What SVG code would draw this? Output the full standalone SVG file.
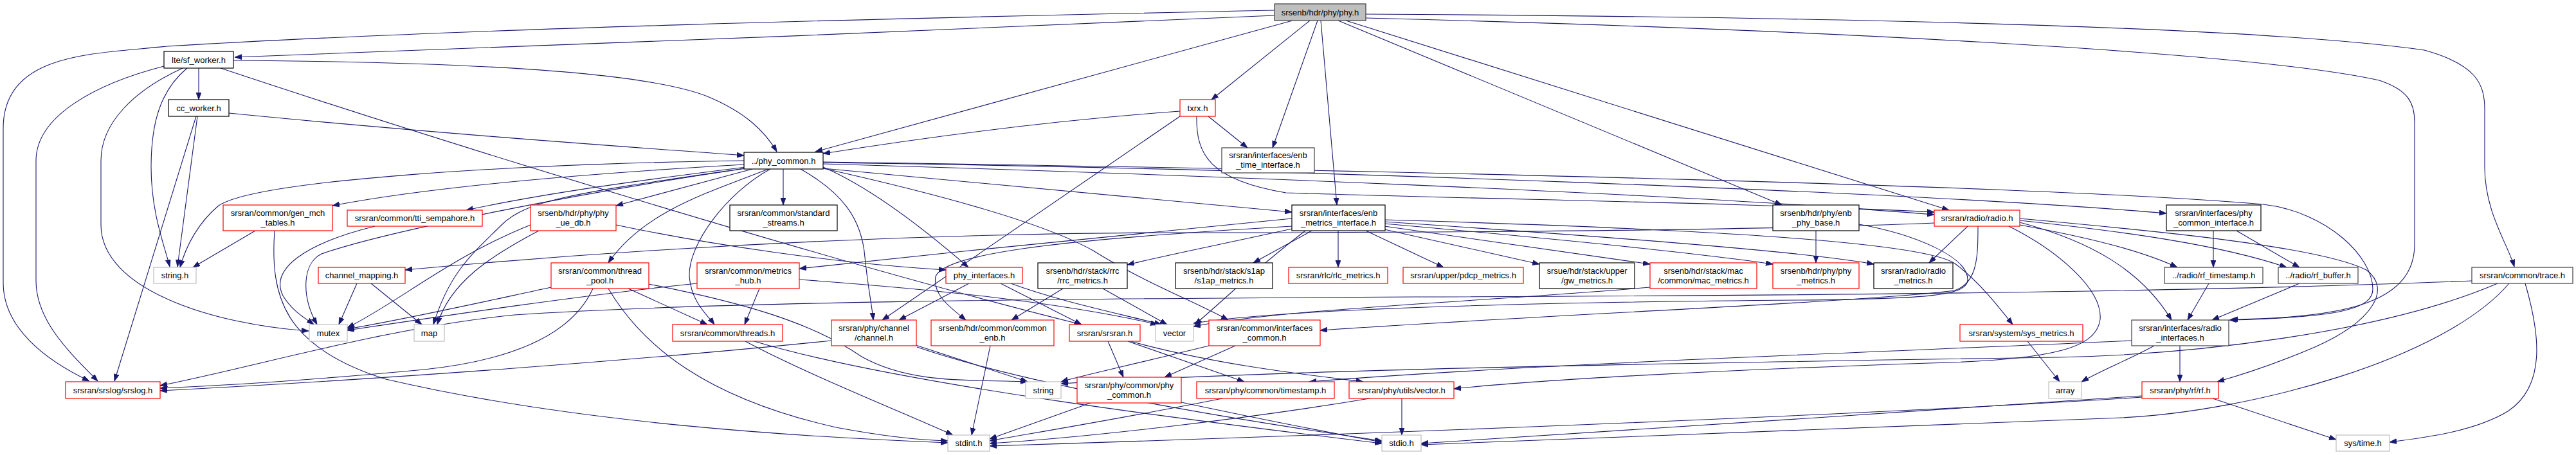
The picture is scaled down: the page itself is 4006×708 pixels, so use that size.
<svg xmlns="http://www.w3.org/2000/svg" width="4006" height="708" viewBox="0 0 4006 708">
<style>
rect{fill:#fff;stroke-width:1.2}
.k rect{stroke:#000}
.r rect{stroke:#ff0000}
.g rect{stroke:#bfbfbf}
.d rect{stroke:#404040}
.m rect{fill:#bfbfbf;stroke:#404040}
text{font-family:"Liberation Sans",Arial,sans-serif;font-size:13px;fill:#000;text-anchor:middle}
#edges path{fill:none;stroke:#191970;stroke-width:1.1;marker-end:url(#a)}
</style>
<defs>
<marker id="a" markerUnits="userSpaceOnUse" markerWidth="12" markerHeight="9" refX="11" refY="4" orient="auto">
<path d="M0,0 L11,4 L0,8 Z" fill="#191970" stroke="#191970" stroke-width="0.8"/>
</marker>
</defs>
<rect x="0" y="0" width="4006" height="708" style="fill:#fff;stroke:none"/>
<g id="edges">
<path d="M1982,24 C1500,45 800,75 365,89"/>
<path d="M1982,16 C1400,28 700,45 260,72 C150,84 5,80 5,200 L5,440 C5,510 70,560 139,593"/>
<path d="M2010,32 L1268,236"/>
<path d="M2037,32 L1884,155"/>
<path d="M2049,32 L1979,230"/>
<path d="M2054,32 L2079,319"/>
<path d="M2081,32 L2771,319"/>
<path d="M2093,32 L3031,327"/>
<path d="M2124,22 C2800,26 3500,40 3770,78 C3850,100 3864,130 3864,170 L3864,260 C3864,330 3900,380 3910,415"/>
<path d="M2124,28 C2800,45 3500,80 3700,125 C3745,140 3755,160 3755,190 L3755,380 C3755,470 3650,495 3469,497"/>
<path d="M309,106 L309,155"/>
<path d="M363,94 C700,96 1000,110 1100,150 C1160,175 1190,205 1208,236"/>
<path d="M255,103 C150,130 56,180 56,250 L56,437 C56,500 110,550 152,593"/>
<path d="M284,106 C210,140 157,190 157,250 L157,350 C157,450 330,505 480,515"/>
<path d="M291,106 C250,140 235,190 235,260 C235,330 255,380 264,415"/>
<path d="M343,106 C700,225 1300,410 1682,505"/>
<path d="M356,176 C700,210 1000,230 1157,242"/>
<path d="M305,181 L178,593"/>
<path d="M307,181 L276,415"/>
<path d="M1835,173 C1600,190 1400,220 1280,239"/>
<path d="M1879,181 L1940,230"/>
<path d="M1835,181 L1372,498"/>
<path d="M1861,181 C1860,240 1880,280 2000,300 C2300,310 2700,315 3008,330"/>
<path d="M1157,256 C1000,265 700,285 517,320"/>
<path d="M1160,260 C1000,280 850,300 725,327"/>
<path d="M1170,263 L958,320"/>
<path d="M1218,263 L1218,319"/>
<path d="M1195,263 C1100,300 1000,330 946,409"/>
<path d="M1198,263 C1130,300 1070,380 1072,430 C1075,470 1100,490 1111,505"/>
<path d="M1280,260 C1350,290 1430,350 1506,416"/>
<path d="M1245,263 C1310,300 1340,340 1345,400 C1350,450 1356,475 1358,498"/>
<path d="M1280,262 C1450,300 1620,345 1700,390 C1780,440 1860,470 1910,498"/>
<path d="M1280,262 L2009,330"/>
<path d="M1280,255 C1800,270 2600,300 3008,334"/>
<path d="M1280,253 C2000,262 3000,300 3369,332"/>
<path d="M1280,252 C2200,265 3200,290 3520,318 C3620,330 3690,400 3690,450 C3690,480 3640,494 3467,498"/>
<path d="M1157,250 C800,255 400,280 340,320 C310,345 290,380 280,416"/>
<path d="M1158,262 C900,300 820,310 780,350 C740,390 700,420 674,505"/>
<path d="M1160,262 C900,300 600,360 500,395 C470,410 468,460 493,505"/>
<path d="M397,359 L300,416"/>
<path d="M427,359 C420,460 440,540 600,590 C900,660 1250,680 1474,689"/>
<path d="M583,352 C470,380 420,420 440,460 C455,485 475,495 488,505"/>
<path d="M555,441 L527,505"/>
<path d="M577,441 L656,505"/>
<path d="M958,350 C1100,380 1300,410 1471,420"/>
<path d="M838,359 C760,400 700,440 680,505"/>
<path d="M825,350 C700,400 620,470 540,510"/>
<path d="M977,449 L1100,505"/>
<path d="M857,447 C750,470 640,495 540,512"/>
<path d="M922,449 C890,520 800,560 660,575 C500,590 350,600 249,604"/>
<path d="M946,449 C1000,540 1100,620 1300,665 C1380,680 1430,685 1474,686"/>
<path d="M1009,442 C1150,470 1260,500 1340,555 C1420,600 1520,590 1598,594"/>
<path d="M1181,449 L1158,505"/>
<path d="M1084,441 C900,460 700,490 540,514"/>
<path d="M1243,435 C1450,450 1650,470 1800,505"/>
<path d="M1159,531 C1250,580 1400,640 1482,677"/>
<path d="M1173,531 C1400,600 1900,660 2149,690"/>
<path d="M1507,441 L1398,498"/>
<path d="M1556,441 L1682,505"/>
<path d="M1572,441 C1650,470 1750,490 1806,505"/>
<path d="M1653,449 L1573,498"/>
<path d="M1715,449 L1815,505"/>
<path d="M2009,352 C1700,370 1470,390 1455,430 C1450,460 1480,480 1502,498"/>
<path d="M2009,356 C1900,380 1800,400 1753,412"/>
<path d="M2040,359 L1949,409"/>
<path d="M2081,359 L2081,416"/>
<path d="M2124,359 L2245,416"/>
<path d="M2153,357 L2394,411"/>
<path d="M2153,352 L2566,411"/>
<path d="M2153,348 C2400,370 2650,395 2757,411"/>
<path d="M2153,345 C2450,365 2800,390 2914,411"/>
<path d="M2153,342 C2500,352 2980,370 3040,410 C3080,440 3110,480 3130,505"/>
<path d="M2009,340 C1800,360 1500,390 1243,418"/>
<path d="M2030,359 C1950,420 1900,470 1858,505"/>
<path d="M2824,359 L2824,409"/>
<path d="M2891,349 C2980,365 3060,400 3060,435 C3060,460 3000,465 2800,467 C2400,470 2000,480 1856,503"/>
<path d="M2566,447 C2300,470 2000,480 1856,508"/>
<path d="M1540,538 L1511,677"/>
<path d="M1424,537 L1598,594"/>
<path d="M1293,530 C1000,560 600,590 249,608"/>
<path d="M1426,540 C1600,600 1900,650 2149,686"/>
<path d="M1723,531 L1747,587"/>
<path d="M1754,531 L1935,594"/>
<path d="M1758,531 C1900,570 2050,585 2120,594"/>
<path d="M1880,538 C1750,570 1680,585 1650,594"/>
<path d="M1921,538 L1811,587"/>
<path d="M1696,627 L1539,683"/>
<path d="M1837,626 C1950,650 2050,670 2149,688"/>
<path d="M1901,620 C1750,650 1600,675 1539,686"/>
<path d="M2180,620 L2180,677"/>
<path d="M2130,620 C1950,650 1700,680 1539,690"/>
<path d="M3153,531 L3203,594"/>
<path d="M3060,352 L3000,409"/>
<path d="M3008,347 C2700,360 2200,362 1800,362 C1300,365 900,395 630,420"/>
<path d="M3076,352 C3076,400 3075,440 3040,452 C2900,470 2400,490 2053,514"/>
<path d="M3141,350 C3250,370 3330,390 3386,416"/>
<path d="M3141,343 C3300,360 3450,380 3556,416"/>
<path d="M3141,346 C3250,375 3330,420 3377,498"/>
<path d="M3141,340 C3300,355 3600,380 3680,420 C3720,450 3690,500 3600,540 C3530,570 3480,585 3448,594"/>
<path d="M3124,352 C3200,390 3270,450 3266,497 C3260,540 3200,560 3000,565 C2700,575 2400,590 2261,605"/>
<path d="M3390,538 L3390,594"/>
<path d="M3350,538 C3310,560 3270,575 3237,594"/>
<path d="M3315,530 C3000,545 2400,565 2036,594"/>
<path d="M3435,441 L3402,498"/>
<path d="M3576,441 L3440,498"/>
<path d="M3442,359 L3442,416"/>
<path d="M3478,359 L3576,416"/>
<path d="M3927,441 C3950,520 3960,600 3900,640 C3850,670 3780,680 3716,688"/>
<path d="M3844,437 C3400,455 2800,460 2200,462 C1600,465 1100,470 800,490 C600,510 400,570 249,600"/>
<path d="M3884,441 C3700,520 3400,552 3200,556 C2600,565 2000,575 1650,597"/>
<path d="M3902,441 C3800,560 3500,640 3300,650 C2700,670 2400,685 2210,692"/>
<path d="M3441,620 L3633,684"/>
<path d="M3331,618 C3000,640 2300,670 1539,694"/>
<path d="M3331,616 C3000,640 2500,670 2210,690"/>
</g>
<g id="n_phy" class="m"><rect x="1982" y="6" width="142" height="26"/><text x="2053" y="23.5">srsenb/hdr/phy/phy.h</text></g>
<g id="n_sfw" class="k"><rect x="255" y="80" width="108" height="26"/><text x="309" y="97.5">lte/sf_worker.h</text></g>
<g id="n_ccw" class="k"><rect x="262" y="155" width="94" height="26"/><text x="309" y="172.5">cc_worker.h</text></g>
<g id="n_txrx" class="r"><rect x="1835" y="155" width="55" height="26"/><text x="1862.5" y="172.5">txrx.h</text></g>
<g id="n_etime" class="d"><rect x="1900" y="230" width="144" height="39"/><text x="1972" y="246">srsran/interfaces/enb</text><text x="1972" y="261">_time_interface.h</text></g>
<g id="n_pc" class="k"><rect x="1157" y="237" width="123" height="26"/><text x="1218.5" y="254.5">../phy_common.h</text></g>
<g id="n_gen" class="r"><rect x="347" y="319" width="170" height="40"/><text x="432" y="336">srsran/common/gen_mch</text><text x="432" y="350.5">_tables.h</text></g>
<g id="n_tti" class="r"><rect x="540" y="327" width="210" height="25"/><text x="645" y="344">srsran/common/tti_sempahore.h</text></g>
<g id="n_ue" class="r"><rect x="825" y="319" width="133" height="40"/><text x="891.5" y="336">srsenb/hdr/phy/phy</text><text x="891.5" y="350.5">_ue_db.h</text></g>
<g id="n_std" class="k"><rect x="1135" y="319" width="167" height="40"/><text x="1218.5" y="336">srsran/common/standard</text><text x="1218.5" y="350.5">_streams.h</text></g>
<g id="n_emi" class="k"><rect x="2009" y="319" width="145" height="40"/><text x="2081.5" y="336">srsran/interfaces/enb</text><text x="2081.5" y="350.5">_metrics_interface.h</text></g>
<g id="n_epb" class="k"><rect x="2757" y="319" width="134" height="40"/><text x="2824" y="336">srsenb/hdr/phy/enb</text><text x="2824" y="350.5">_phy_base.h</text></g>
<g id="n_radio" class="r"><rect x="3008" y="327" width="133" height="25"/><text x="3074.5" y="344">srsran/radio/radio.h</text></g>
<g id="n_pci" class="k"><rect x="3369" y="319" width="147" height="40"/><text x="3442.5" y="336">srsran/interfaces/phy</text><text x="3442.5" y="350.5">_common_interface.h</text></g>
<g id="n_string_h" class="g"><rect x="239" y="416" width="66" height="25"/><text x="272" y="433">string.h</text></g>
<g id="n_chmap" class="r"><rect x="495" y="416" width="135" height="25"/><text x="562.5" y="433">channel_mapping.h</text></g>
<g id="n_tp" class="r"><rect x="857" y="409" width="152" height="40"/><text x="933" y="426">srsran/common/thread</text><text x="933" y="440.5">_pool.h</text></g>
<g id="n_mhub" class="r"><rect x="1084" y="409" width="159" height="40"/><text x="1163.5" y="426">srsran/common/metrics</text><text x="1163.5" y="440.5">_hub.h</text></g>
<g id="n_phyif" class="r"><rect x="1471" y="416" width="119" height="25"/><text x="1530.5" y="433">phy_interfaces.h</text></g>
<g id="n_rrc" class="k"><rect x="1614" y="409" width="139" height="40"/><text x="1683.5" y="426">srsenb/hdr/stack/rrc</text><text x="1683.5" y="440.5">/rrc_metrics.h</text></g>
<g id="n_s1ap" class="k"><rect x="1828" y="409" width="151" height="40"/><text x="1903.5" y="426">srsenb/hdr/stack/s1ap</text><text x="1903.5" y="440.5">/s1ap_metrics.h</text></g>
<g id="n_rlc" class="r"><rect x="2004" y="416" width="154" height="25"/><text x="2081" y="433">srsran/rlc/rlc_metrics.h</text></g>
<g id="n_pdcp" class="r"><rect x="2182" y="416" width="187" height="25"/><text x="2275.5" y="433">srsran/upper/pdcp_metrics.h</text></g>
<g id="n_gw" class="k"><rect x="2394" y="409" width="148" height="40"/><text x="2468" y="426">srsue/hdr/stack/upper</text><text x="2468" y="440.5">/gw_metrics.h</text></g>
<g id="n_mac" class="r"><rect x="2566" y="409" width="166" height="40"/><text x="2649" y="426">srsenb/hdr/stack/mac</text><text x="2649" y="440.5">/common/mac_metrics.h</text></g>
<g id="n_phym" class="r"><rect x="2757" y="409" width="134" height="40"/><text x="2824" y="426">srsenb/hdr/phy/phy</text><text x="2824" y="440.5">_metrics.h</text></g>
<g id="n_radm" class="k"><rect x="2914" y="409" width="123" height="40"/><text x="2975.5" y="426">srsran/radio/radio</text><text x="2975.5" y="440.5">_metrics.h</text></g>
<g id="n_rfts" class="d"><rect x="3366" y="416" width="153" height="25"/><text x="3442.5" y="433">../radio/rf_timestamp.h</text></g>
<g id="n_rfbuf" class="d"><rect x="3543" y="416" width="124" height="25"/><text x="3605" y="433">../radio/rf_buffer.h</text></g>
<g id="n_trace" class="d"><rect x="3844" y="416" width="157" height="25"/><text x="3922.5" y="433">srsran/common/trace.h</text></g>
<g id="n_mutex" class="g"><rect x="481" y="505" width="59" height="26"/><text x="510.5" y="522.5">mutex</text></g>
<g id="n_map" class="g"><rect x="644" y="505" width="47" height="26"/><text x="667.5" y="522.5">map</text></g>
<g id="n_threads" class="r"><rect x="1046" y="505" width="171" height="26"/><text x="1131.5" y="522.5">srsran/common/threads.h</text></g>
<g id="n_chan" class="r"><rect x="1293" y="498" width="132" height="40"/><text x="1359" y="515">srsran/phy/channel</text><text x="1359" y="529.5">/channel.h</text></g>
<g id="n_cenb" class="r"><rect x="1448" y="498" width="191" height="40"/><text x="1543.5" y="515">srsenb/hdr/common/common</text><text x="1543.5" y="529.5">_enb.h</text></g>
<g id="n_srsran" class="r"><rect x="1663" y="505" width="110" height="26"/><text x="1718" y="522.5">srsran/srsran.h</text></g>
<g id="n_vector" class="g"><rect x="1797" y="505" width="59" height="26"/><text x="1826.5" y="522.5">vector</text></g>
<g id="n_ifc" class="r"><rect x="1880" y="498" width="173" height="40"/><text x="1966.5" y="515">srsran/common/interfaces</text><text x="1966.5" y="529.5">_common.h</text></g>
<g id="n_sysm" class="r"><rect x="3048" y="505" width="191" height="26"/><text x="3143.5" y="522.5">srsran/system/sys_metrics.h</text></g>
<g id="n_radif" class="d"><rect x="3315" y="498" width="151" height="40"/><text x="3390.5" y="515">srsran/interfaces/radio</text><text x="3390.5" y="529.5">_interfaces.h</text></g>
<g id="n_srslog" class="r"><rect x="102" y="594" width="147" height="26"/><text x="175.5" y="611.5">srsran/srslog/srslog.h</text></g>
<g id="n_string" class="g"><rect x="1595" y="594" width="55" height="26"/><text x="1622.5" y="611.5">string</text></g>
<g id="n_pcc" class="r"><rect x="1675" y="587" width="162" height="40"/><text x="1756" y="604">srsran/phy/common/phy</text><text x="1756" y="618.5">_common.h</text></g>
<g id="n_ts" class="r"><rect x="1861" y="594" width="214" height="26"/><text x="1968" y="611.5">srsran/phy/common/timestamp.h</text></g>
<g id="n_vec" class="r"><rect x="2098" y="594" width="163" height="26"/><text x="2179.5" y="611.5">srsran/phy/utils/vector.h</text></g>
<g id="n_array" class="g"><rect x="3186" y="594" width="51" height="26"/><text x="3211.5" y="611.5">array</text></g>
<g id="n_rf" class="r"><rect x="3331" y="594" width="119" height="26"/><text x="3390.5" y="611.5">srsran/phy/rf/rf.h</text></g>
<g id="n_stdint" class="g"><rect x="1474" y="677" width="65" height="25"/><text x="1506.5" y="694">stdint.h</text></g>
<g id="n_stdio" class="g"><rect x="2149" y="677" width="61" height="25"/><text x="2179.5" y="694">stdio.h</text></g>
<g id="n_systime" class="g"><rect x="3633" y="677" width="83" height="25"/><text x="3674.5" y="694">sys/time.h</text></g>
</svg>
